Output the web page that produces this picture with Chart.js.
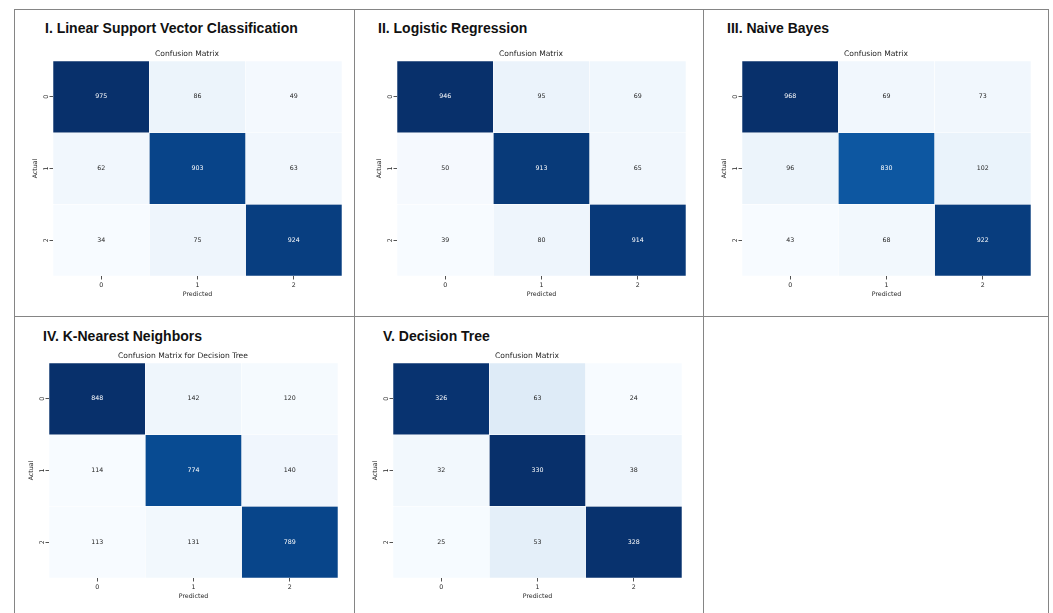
<!DOCTYPE html>
<html>
<head>
<meta charset="utf-8">
<script src="https://cdn.jsdelivr.net/npm/chart.js@4.4.1/dist/chart.umd.min.js"></script>
<style>
  html, body { margin: 0; padding: 0; background: #fff; }
  body { width: 1053px; height: 613px; position: relative; overflow: hidden; }
  .rule { position: absolute; background: #858585; }
  .heading {
    position: absolute;
    font-family: "Liberation Sans", Arial, sans-serif;
    font-weight: bold;
    font-size: 14px;
    line-height: 14px;
    color: #111;
    white-space: nowrap;
  }
  canvas { position: absolute; }
</style>
</head>
<body>
<script>
// Class labels shared by both axes of every matrix
const tickLabels = ['0', '1', '2'];

// Confusion matrices (rows = actual class, columns = predicted class)
const svcMatrix = [
  [975, 86, 49],
  [62, 903, 63],
  [34, 75, 924]
];
const logRegMatrix = [
  [946, 95, 69],
  [50, 913, 65],
  [39, 80, 914]
];
const naiveBayesMatrix = [
  [968, 69, 73],
  [96, 830, 102],
  [43, 68, 922]
];
const knnMatrix = [
  [848, 142, 120],
  [114, 774, 140],
  [113, 131, 789]
];
const treeMatrix = [
  [326, 63, 24],
  [32, 330, 38],
  [25, 53, 328]
];

const panelHeadings = [
  'I. Linear Support Vector Classification',
  'II. Logistic Regression',
  'III. Naive Bayes',
  'IV. K-Nearest Neighbors',
  'V. Decision Tree'
];
const chartTitles = [
  'Confusion Matrix',
  'Confusion Matrix',
  'Confusion Matrix',
  'Confusion Matrix for Decision Tree',
  'Confusion Matrix'
];
const matrices = [svcMatrix, logRegMatrix, naiveBayesMatrix, knnMatrix, treeMatrix];

// Page layout: heatmap area origin of each panel and heading anchor
const layout = [
  { heatX: 53,  heatY: 61,  headX: 45,  headY: 21 },
  { heatX: 396.5, heatY: 61, headX: 378, headY: 21 },
  { heatX: 742, heatY: 61,  headX: 727, headY: 21 },
  { heatX: 49,  heatY: 363, headX: 43,  headY: 328.5 },
  { heatX: 393, heatY: 363, headX: 383, headY: 328.5 }
];
const HEAT_W = 289, HEAT_H = 215;
const Y_AXIS_W = 21, X_AXIS_H = 22, TITLE_H = 11;

// Frame rules between the panels
const rules = [
  { l: 14, t: 9, w: 1035, h: 1 },
  { l: 14, t: 9, w: 1, h: 604 },
  { l: 354, t: 9, w: 1, h: 604 },
  { l: 703, t: 9, w: 1, h: 604 },
  { l: 1048, t: 9, w: 1, h: 604 },
  { l: 14, t: 316, w: 1035, h: 1 }
];
rules.forEach(r => {
  const d = document.createElement('div');
  d.className = 'rule';
  Object.assign(d.style, { left: r.l + 'px', top: r.t + 'px', width: r.w + 'px', height: r.h + 'px' });
  document.body.appendChild(d);
});

// matplotlib "Blues" colour map stops
const bluesStops = [
  [247, 251, 255], [222, 235, 247], [198, 219, 239], [158, 202, 225],
  [107, 174, 214], [66, 146, 198], [33, 113, 181], [8, 81, 156], [8, 48, 107]
];
function blues(t) {
  t = Math.max(0, Math.min(1, t));
  const pos = t * (bluesStops.length - 1);
  const i = Math.min(Math.floor(pos), bluesStops.length - 2);
  const f = pos - i;
  const a = bluesStops[i], b = bluesStops[i + 1];
  return a.map((v, k) => v + (b[k] - v) * f);
}
function luminance(rgb) {
  const c = rgb.map(v => {
    v /= 255;
    return v <= 0.03928 ? v / 12.92 : Math.pow((v + 0.055) / 1.055, 2.4);
  });
  return 0.2126 * c[0] + 0.7152 * c[1] + 0.0722 * c[2];
}
const rgbStr = c => `rgb(${c.map(Math.round).join(',')})`;

const BASE_FONT = "'DejaVu Sans', sans-serif";
const INK = '#262626';

// Writes each cell's count in its centre, white on dark cells
const cellLabels = {
  id: 'cellLabels',
  afterDatasetsDraw(chart) {
    const ctx = chart.ctx;
    ctx.save();
    ctx.font = `6.3px ${BASE_FONT}`;
    ctx.textAlign = 'center';
    ctx.textBaseline = 'middle';
    chart.data.datasets.forEach((ds, r) => {
      chart.getDatasetMeta(r).data.forEach((bar, c) => {
        const rgb = ds.cellRgb[c];
        ctx.fillStyle = luminance(rgb) < 0.408 ? '#ffffff' : INK;
        ctx.fillText(String(ds.counts[c]), bar.x, (bar.y + bar.base) / 2);
      });
    });
    ctx.restore();
  }
};

function buildPanel(idx) {
  const m = matrices[idx];
  const L = layout[idx];
  const flat = m.flat();
  const vmin = Math.min(...flat), vmax = Math.max(...flat);

  const head = document.createElement('div');
  head.className = 'heading';
  head.textContent = panelHeadings[idx];
  head.style.left = L.headX + 'px';
  head.style.top = L.headY + 'px';
  document.body.appendChild(head);

  const canvas = document.createElement('canvas');
  const cw = Y_AXIS_W + HEAT_W, chh = TITLE_H + HEAT_H + X_AXIS_H;
  canvas.width = cw; canvas.height = chh;
  canvas.style.width = cw + 'px'; canvas.style.height = chh + 'px';
  canvas.style.left = (L.heatX - Y_AXIS_W) + 'px';
  canvas.style.top = (L.heatY - TITLE_H) + 'px';
  document.body.appendChild(canvas);

  // one floating-bar dataset per actual-class row
  const datasets = m.map((row, r) => {
    const rgbs = row.map(v => blues((v - vmin) / (vmax - vmin)));
    return {
      label: 'Actual ' + tickLabels[r],
      data: row.map(() => [r, r + 1]),
      counts: row,
      cellRgb: rgbs,
      backgroundColor: rgbs.map(rgbStr),
      borderColor: 'rgba(255,255,255,0.45)',
      borderWidth: 0.6,
      borderSkipped: false,
      grouped: false,
      barPercentage: 1,
      categoryPercentage: 1
    };
  });

  new Chart(canvas, {
    type: 'bar',
    data: { labels: tickLabels, datasets },
    options: {
      responsive: false,
      animation: false,
      devicePixelRatio: 1,
      layout: { padding: 0, autoPadding: false },
      plugins: {
        legend: { display: false },
        tooltip: { enabled: false },
        title: {
          display: true,
          text: chartTitles[idx],
          color: INK,
          font: { family: BASE_FONT, size: 7.6, weight: 'normal', lineHeight: 1 },
          padding: { top: 0, bottom: TITLE_H - 7.6 }
        }
      },
      scales: {
        x: {
          type: 'category',
          offset: true,
          border: { display: false },
          grid: { display: true, offset: false, drawOnChartArea: false, drawTicks: true, tickLength: 3.5, tickColor: INK, tickWidth: 0.8 },
          ticks: { color: INK, padding: 2, font: { family: BASE_FONT, size: 6.3 }, maxRotation: 0, minRotation: 0 },
          title: { display: true, text: 'Predicted', color: INK, font: { family: BASE_FONT, size: 6.3, lineHeight: 1.2 }, padding: 0 },
          afterFit(scale) { scale.height = X_AXIS_H; }
        },
        y: {
          type: 'linear',
          min: 0,
          max: tickLabels.length,
          reverse: true,
          border: { display: false },
          grid: { display: true, drawOnChartArea: false, drawTicks: true, tickLength: 3.5, tickColor: INK, tickWidth: 0.8 },
          ticks: {
            color: INK,
            padding: 1.5,
            crossAlign: 'center',
            minRotation: 90,
            maxRotation: 90,
            font: { family: BASE_FONT, size: 6.3 },
            callback: v => tickLabels[Math.floor(v)]
          },
          afterBuildTicks(scale) {
            scale.ticks = tickLabels.map((_, i) => ({ value: i + 0.5 }));
          },
          title: { display: true, text: 'Actual', color: INK, font: { family: BASE_FONT, size: 6.3, lineHeight: 1.2 }, padding: 0 },
          afterFit(scale) { scale.width = Y_AXIS_W; }
        }
      }
    },
    plugins: [cellLabels]
  });
}

matrices.forEach((_, i) => buildPanel(i));
</script>
</body>
</html>
